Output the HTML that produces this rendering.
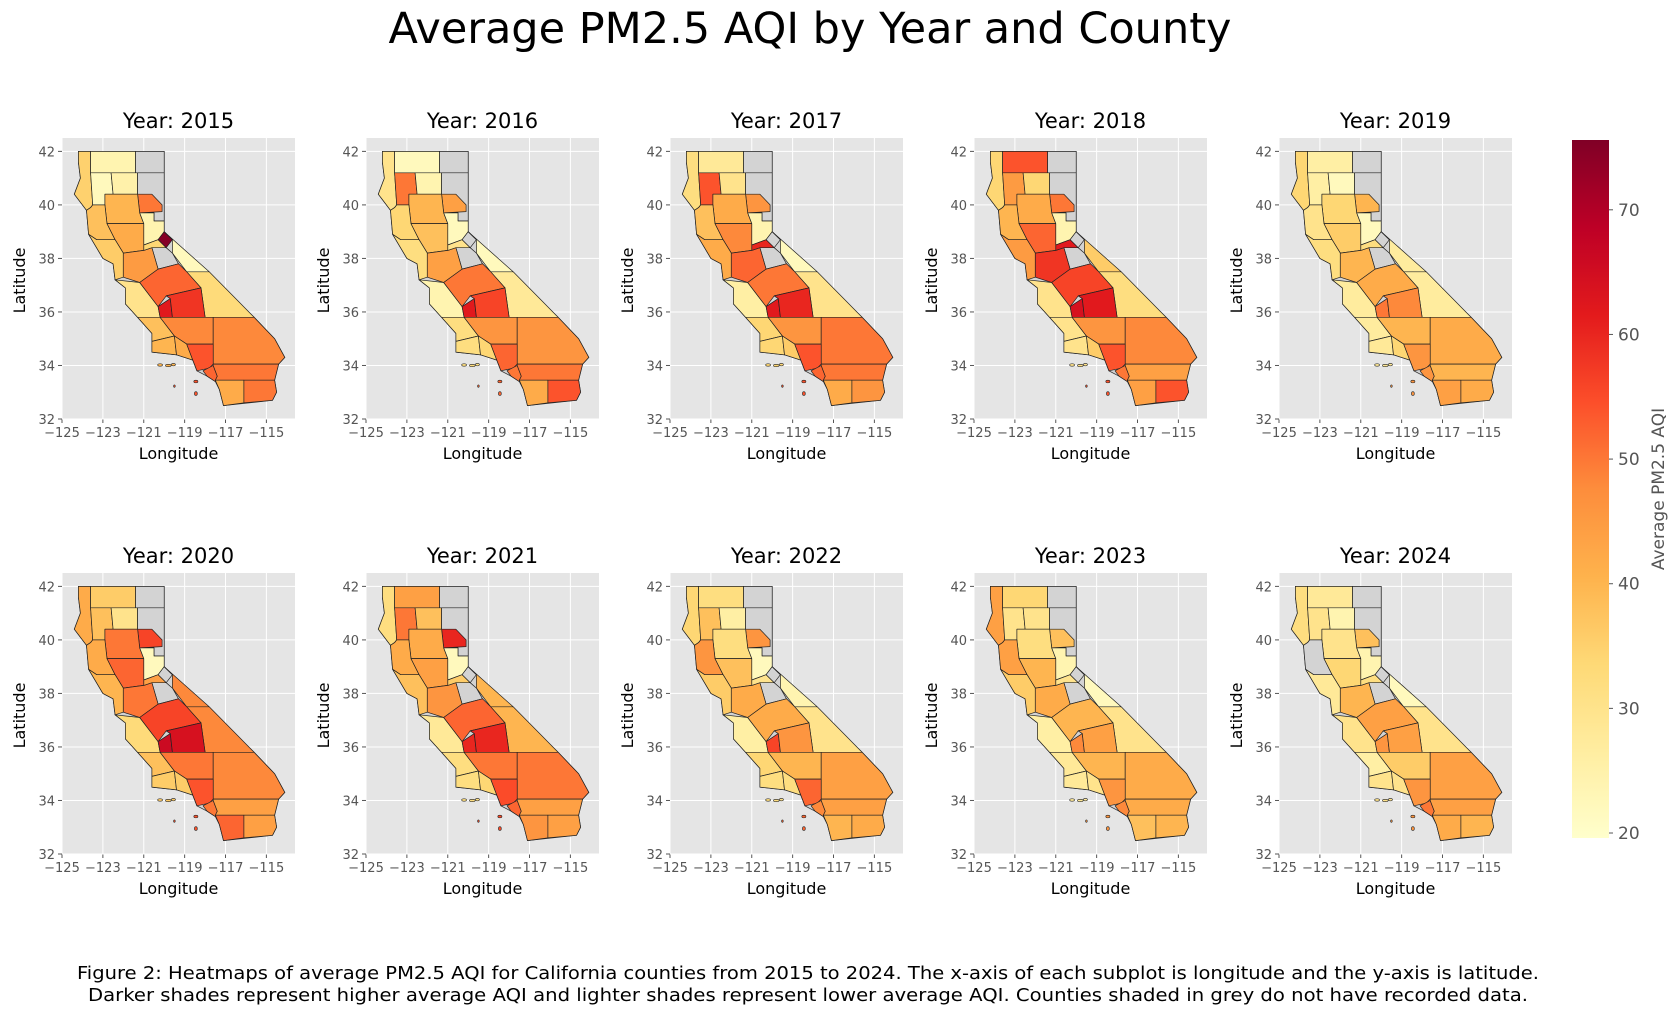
<!DOCTYPE html>
<html><head><meta charset="utf-8"><style>
html,body{margin:0;padding:0;background:#fff;}
svg{display:block;font-family:"DejaVu Sans","Liberation Sans",sans-serif;}
</style></head><body>
<svg id="fig" width="1679" height="1014" viewBox="0 0 1679 1014" xmlns="http://www.w3.org/2000/svg">
<text x="810" y="43" font-size="43" text-anchor="middle" fill="#000">Average PM2.5 AQI by Year and County</text>
<g id="panels"></g>
<g id="cbar"></g>
<text x="808" y="979" font-size="18" text-anchor="middle" textLength="1462" lengthAdjust="spacingAndGlyphs">Figure 2: Heatmaps of average PM2.5 AQI for California counties from 2015 to 2024. The x-axis of each subplot is longitude and the y-axis is latitude.</text>
<text x="808" y="1001" font-size="18" text-anchor="middle" textLength="1440" lengthAdjust="spacingAndGlyphs">Darker shades represent higher average AQI and lighter shades represent lower average AQI. Counties shaded in grey do not have recorded data.</text>
</svg>
<script>
// ---- data ----
const years = [2015,2016,2017,2018,2019,2020,2021,2022,2023,2024];
const regionNames = ["humboldt-coast","siskiyou","modoc","trinity","shasta","lassen","plumas","north-valley","mendocino","sac-valley","sierra-mid","alpine","mono","inyo","tuolumne","bay-coast","east-bay","monterey","merced-fresno","kings","tulare","slo","kern","san-bernardino","santa-barbara","ventura","los-angeles","orange","riverside","san-diego","imperial","amador-calaveras"];
const aqi2015 = [35,24,null,22,25,null,50,40,38,42,24,75,22,33,null,36,45,30,52,62,58,38,48,48,40,42,54,52,50,42,50,34];
const aqi2016 = [30,22,null,50,24,null,44,40,34,38,22,null,22,28,null,32,44,24,50,62,56,32,46,46,32,34,52,50,50,42,54,30];
const aqi2017 = [32,28,null,54,30,null,46,42,38,48,24,null,22,30,null,42,52,26,50,62,60,34,46,50,34,36,54,52,50,42,46,60];
const aqi2018 = [34,54,null,45,34,null,50,42,40,52,24,null,36,32,null,45,58,30,56,64,62,30,46,48,30,36,54,50,44,44,54,62];
const aqi2019 = [34,26,null,26,22,null,40,34,30,36,22,null,27,27,null,32,40,27,42,50,48,27,40,42,28,34,46,46,40,44,42,32];
const aqi2020 = [42,36,null,38,30,null,56,50,42,52,22,null,48,48,null,40,50,33,56,66,64,38,50,48,36,36,54,50,44,52,44,44];
const aqi2021 = [32,44,null,50,38,null,60,42,42,44,22,null,40,40,null,38,46,28,52,60,60,32,50,50,32,34,55,52,44,46,44,36];
const aqi2022 = [34,32,null,38,26,null,46,32,46,38,22,null,24,30,null,36,42,26,42,56,46,34,40,44,32,32,52,48,44,40,42,30];
const aqi2023 = [44,34,null,30,30,null,38,32,44,40,24,null,22,30,null,36,42,26,40,48,44,28,40,42,28,30,46,48,42,38,40,30];
const aqi2024 = [32,28,null,30,24,null,38,30,null,34,24,null,22,30,null,28,40,30,44,46,44,26,36,44,30,30,46,50,44,42,40,32];
const yearValues = [aqi2015,aqi2016,aqi2017,aqi2018,aqi2019,aqi2020,aqi2021,aqi2022,aqi2023,aqi2024];
const xTicks = [-125,-123,-121,-119,-117,-115];
const yTicks = [32,34,36,38,40,42];
const cbarTicks = [20,30,40,50,60,70];
const vmin = 19.6, vmax = 75.6;

// geometry (lon,lat outlines)
const stateOutline = [[-124.2,42],[-120,42],[-120,39],[-115.6,35.8],[-114.6,35],[-114.1,34.3],[-114.4,34.05],[-114.6,33.45],[-114.5,33.0],[-114.7,32.7],[-117.1,32.5],[-117.3,33.1],[-117.5,33.4],[-117.9,33.6],[-118.4,33.8],[-118.6,34.2],[-119.4,34.4],[-120.6,34.5],[-120.6,35.2],[-121.3,35.8],[-121.9,36.3],[-121.9,36.9],[-122.4,37.2],[-122.5,37.8],[-123.0,38.0],[-123.7,38.9],[-123.8,39.8],[-124.4,40.4],[-124.1,41.0],[-124.2,41.6]];
const shapes = [
[[-124.2,42],[-123.6,42],[-123.6,41.2],[-123.5,40],[-123.6,39.9],[-123.8,39.8],[-124.4,40.4],[-124.1,41.0],[-124.2,41.6]],
[[-123.6,42],[-121.4,42],[-121.4,41.2],[-123.6,41.2]],
[[-121.4,42],[-120,42],[-120,41.2],[-121.4,41.2]],
[[-123.6,41.2],[-122.6,41.2],[-122.5,40.4],[-122.9,40.4],[-122.9,40.0],[-123.5,40.0]],
[[-122.6,41.2],[-121.3,41.2],[-121.3,40.4],[-122.5,40.4]],
[[-121.3,41.2],[-120,41.2],[-120,39.4],[-120.5,39.4],[-120.5,39.7],[-121.2,39.7],[-121.3,40.4]],
[[-121.3,40.4],[-120.6,40.4],[-120.1,40.0],[-120.1,39.75],[-121.2,39.7]],
[[-122.9,40.4],[-121.3,40.4],[-121.2,39.7],[-121.0,39.3],[-122.8,39.3],[-122.9,40.0]],
[[-123.5,40.0],[-122.9,40.0],[-122.8,39.3],[-122.4,38.7],[-123.3,38.7],[-123.7,38.9],[-123.8,39.8],[-123.6,39.9]],
[[-122.8,39.3],[-121.0,39.3],[-121.0,38.3],[-122.0,38.2],[-122.4,38.7]],
[[-121.2,39.7],[-120.5,39.7],[-120.5,39.4],[-120.0,39.4],[-120.0,39.0],[-120.3,38.7],[-121.0,38.5],[-121.0,39.3]],
[[-120.0,39.0],[-119.6,38.7],[-119.9,38.4],[-120.3,38.7]],
[[-120.0,39.0],[-117.8,37.5],[-118.9,37.5],[-119.6,38.2],[-119.6,38.7]],
[[-118.9,37.5],[-117.8,37.5],[-115.6,35.8],[-118.0,35.8],[-118.2,36.9]],
[[-120.6,38.4],[-119.9,38.4],[-119.6,38.2],[-119.3,37.8],[-120.3,37.6]],
[[-123.3,38.7],[-122.4,38.7],[-122.0,38.2],[-122.0,37.3],[-122.4,37.2],[-122.5,37.8],[-123.0,38.0],[-123.7,38.9]],
[[-122.0,38.2],[-121.0,38.3],[-120.6,38.4],[-120.3,37.6],[-121.2,37.1],[-122.0,37.3]],
[[-122.4,37.2],[-121.2,37.1],[-120.3,36.2],[-120.2,35.8],[-121.3,35.8],[-121.9,36.3],[-121.9,36.9]],
[[-121.2,37.1],[-120.3,37.6],[-119.3,37.8],[-118.9,37.5],[-118.2,36.9],[-119.9,36.6],[-120.3,36.2]],
[[-120.3,36.2],[-119.7,36.5],[-119.6,35.8],[-120.2,35.8]],
[[-119.7,36.5],[-119.9,36.6],[-118.2,36.9],[-118.0,35.8],[-119.6,35.8]],
[[-121.3,35.8],[-120.2,35.8],[-119.5,35.1],[-120.6,34.9],[-120.6,35.2]],
[[-120.2,35.8],[-117.6,35.8],[-117.6,34.8],[-118.9,34.8],[-119.5,35.1]],
[[-117.6,35.8],[-115.6,35.8],[-114.6,35.0],[-114.1,34.3],[-114.4,34.05],[-117.6,34.05]],
[[-120.6,34.9],[-119.5,35.1],[-119.4,34.4],[-120.6,34.5]],
[[-119.5,35.1],[-118.9,34.8],[-118.6,34.2],[-119.4,34.4]],
[[-118.9,34.8],[-117.6,34.8],[-117.6,34.05],[-117.8,33.9],[-118.4,33.8],[-118.5,34.0],[-118.6,34.2]],
[[-118.1,33.8],[-117.6,34.0],[-117.4,33.6],[-117.5,33.4],[-117.9,33.6]],
[[-117.6,34.05],[-114.4,34.05],[-114.6,33.45],[-117.5,33.45],[-117.4,33.6],[-117.6,34.0]],
[[-117.5,33.45],[-116.1,33.45],[-116.1,32.6],[-117.1,32.5],[-117.3,33.1]],
[[-116.1,33.45],[-114.6,33.45],[-114.5,33.0],[-114.7,32.7],[-116.1,32.6]],
[[-121.0,38.5],[-120.3,38.7],[-119.9,38.4],[-120.6,38.4],[-121.0,38.3]]
];
const islands = [[-120.2,34.02,0.12,0.03,24],[-119.8,34.0,0.14,0.04,24],[-119.55,34.03,0.1,0.03,24],[-118.45,33.4,0.1,0.05,26],[-118.45,32.95,0.07,0.07,26],[-119.5,33.23,0.04,0.03,26]];

const stops = [[0,"#ffffcc"],[0.125,"#ffeda0"],[0.25,"#fed976"],[0.375,"#feb24c"],[0.5,"#fd8d3c"],[0.625,"#fc4e2a"],[0.75,"#e31a1c"],[0.875,"#bd0026"],[1,"#800026"]];
function hex(h){return [1,3,5].map(i=>parseInt(h.substr(i,2),16));}
function cmap(v){
  if(v===null||v===undefined) return "#d3d3d3";
  let t=Math.max(0,Math.min(1,(v-vmin)/(vmax-vmin)));
  for(let i=1;i<stops.length;i++){
    if(t<=stops[i][0]){
      const a=stops[i-1],b=stops[i];const f=(t-a[0])/(b[0]-a[0]);
      const ca=hex(a[1]),cb=hex(b[1]);
      return "rgb("+ca.map((c,k)=>Math.round(c+(cb[k]-c)*f)).join(",")+")";
    }
  }
  return stops[stops.length-1][1];
}
const NS="http://www.w3.org/2000/svg";
function mk(tag,attrs,parent){const e=document.createElementNS(NS,tag);for(const k in attrs)e.setAttribute(k,attrs[k]);parent.appendChild(e);return e;}

const colX=[62,366,670,974,1279], rowTop=[138,573];
const axW=233, axH=281;
const panels=document.getElementById("panels");
years.forEach((yr,idx)=>{
  const vals=yearValues[idx];
  const ox=colX[idx%5], oy=rowTop[Math.floor(idx/5)];
  const sx=lon=>ox+(lon+125)*(axW/11.4);
  const sy=lat=>oy+(42.5-lat)*(axH/10.5);
  const g=mk("g",{},panels);
  
  
  const bg=mk("rect",{x:ox,y:oy,width:axW,height:axH,fill:"#e5e5e5"},g);
  
  
  xTicks.forEach(t=>{
    const x=sx(t);
    mk("line",{x1:x,x2:x,y1:oy,y2:oy+axH,stroke:"#fff","stroke-width":1},g);
    mk("line",{x1:x,x2:x,y1:oy+axH,y2:oy+axH+4,stroke:"#555","stroke-width":1},g);
    const tl=mk("text",{x:x,y:oy+axH+18,"font-size":13,"text-anchor":"middle",fill:"#555"},g);
    tl.textContent=(t<0?"\u2212":"")+Math.abs(t);
    
    
  });
  yTicks.forEach(t=>{
    const y=sy(t);
    mk("line",{x1:ox,x2:ox+axW,y1:y,y2:y,stroke:"#fff","stroke-width":1},g);
    mk("line",{x1:ox-4,x2:ox,y1:y,y2:y,stroke:"#555","stroke-width":1},g);
    const tl=mk("text",{x:ox-7,y:y+5,"font-size":13,"text-anchor":"end",fill:"#555"},g);
    tl.textContent=t;
    
    
  });
  const st=mk("polygon",{points:stateOutline.map(q=>sx(q[0]).toFixed(1)+","+sy(q[1]).toFixed(1)).join(" "),fill:"#d3d3d3",stroke:"#333","stroke-width":0.8},g);
  
  
  shapes.forEach((pts,i)=>{
    const p=mk("polygon",{points:pts.map(q=>sx(q[0]).toFixed(1)+","+sy(q[1]).toFixed(1)).join(" "),fill:cmap(vals[i]),stroke:"#222","stroke-width":0.7,"stroke-linejoin":"round"},g);
    
    
  });
  islands.forEach(is=>{
    const e=mk("ellipse",{cx:sx(is[0]),cy:sy(is[1]),rx:is[2]*axW/11.4,ry:Math.max(1.2,is[3]*axH/10.5),fill:cmap(vals[is[4]]),stroke:"#222","stroke-width":0.6},g);
    
    
  });
  const tt=mk("text",{x:ox+axW/2,y:oy-10,"font-size":21,"text-anchor":"middle",fill:"#000"},g);
  tt.textContent="Year: "+yr;
  
  
  const xl=mk("text",{x:ox+axW/2,y:oy+axH+40,"font-size":16,"text-anchor":"middle",fill:"#000"},g);
  xl.textContent="Longitude";
  
  
  const yl=mk("text",{x:0,y:0,"font-size":16,"text-anchor":"middle",fill:"#000",transform:"translate("+(ox-37)+","+(oy+axH/2+2)+") rotate(-90)"},g);
  yl.textContent="Latitude";
  
  
});

// colorbar
const cb=document.getElementById("cbar");
const cbx=1572,cbw=37,cbTop=140,cbBot=838;
const cy=v=>cbBot-(v-vmin)/(vmax-vmin)*(cbBot-cbTop);
const defs=mk("defs",{},cb);
const grad=mk("linearGradient",{id:"cg",x1:0,y1:1,x2:0,y2:0},defs);
for(let i=0;i<=40;i++){const v=vmin+(vmax-vmin)*i/40;mk("stop",{offset:(i/40),"stop-color":cmap(v)},grad);}
const cr=mk("rect",{x:cbx,y:cbTop,width:cbw,height:cbBot-cbTop,fill:"url(#cg)"},cb);


cbarTicks.forEach(t=>{
  const y=cy(t);
  mk("line",{x1:cbx+cbw,x2:cbx+cbw+4,y1:y,y2:y,stroke:"#555"},cb);
  const tl=mk("text",{x:cbx+cbw+9,y:y+6,"font-size":17,fill:"#555"},cb);
  tl.textContent=t;
  
  
});
const cl=mk("text",{x:0,y:0,"font-size":17,"text-anchor":"middle",fill:"#555",transform:"translate(1664,489) rotate(-90)"},cb);
cl.textContent="Average PM2.5 AQI";


</script>
</body></html>
